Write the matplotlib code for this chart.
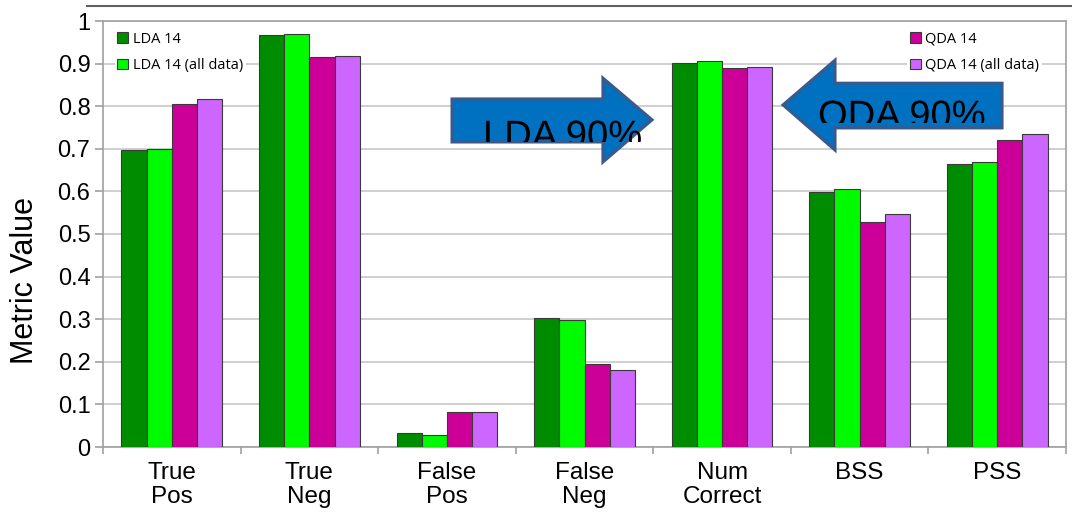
import numpy as np
import matplotlib.pyplot as plt
from matplotlib.patches import Polygon, PathPatch
from matplotlib.lines import Line2D
from matplotlib.textpath import TextPath
from matplotlib.font_manager import FontProperties
from matplotlib.transforms import Affine2D, Bbox, TransformedBbox

plt.rcParams['font.family'] = ['Liberation Sans', 'DejaVu Sans']

# Data
categories = ['True\nPos', 'True\nNeg', 'False\nPos', 'False\nNeg',
              'Num\nCorrect', 'BSS', 'PSS']
lda14 = [0.697, 0.968, 0.032, 0.302, 0.902, 0.598, 0.665]
lda14_all = [0.699, 0.969, 0.029, 0.299, 0.905, 0.605, 0.668]
qda14 = [0.804, 0.916, 0.081, 0.196, 0.890, 0.527, 0.721]
qda14_all = [0.817, 0.918, 0.081, 0.181, 0.893, 0.547, 0.735]
series_names = ['LDA 14', 'LDA 14 (all data)', 'QDA 14', 'QDA 14 (all data)']
colors = ['#008C00', '#00FA00', '#CC0099', '#CC66FF']

fig = plt.figure(figsize=(10.72, 5.12), dpi=100)
ax = fig.add_axes([103/1072, 65/512, 963/1072, 426/512])

x = np.arange(len(categories))
w = 0.183
bars = []
for i, (vals, c) in enumerate(zip([lda14, lda14_all, qda14, qda14_all], colors)):
    b = ax.bar(x + (i - 1.5) * w, vals, w, color=c, edgecolor='#3a3a3a',
               linewidth=0.8, zorder=3, label=series_names[i])
    bars.append(b)

ax.set_xlim(-0.5, len(categories) - 0.5)
ax.set_ylim(0, 1.0)
ax.set_yticks(np.arange(0, 1.01, 0.1))
ax.set_yticklabels(['0', '0.1', '0.2', '0.3', '0.4', '0.5', '0.6', '0.7',
                    '0.8', '0.9', '1'])
ax.grid(axis='y', color='#cccccc', linewidth=1.3, zorder=0)
ax.set_xticks(x)
ax.set_xticklabels(categories, fontsize=17.5, linespacing=1.12)
ax.set_xticks(np.arange(-0.5, len(categories), 1), minor=True)
ax.tick_params(axis='x', which='major', length=0, pad=11)
ax.tick_params(axis='x', which='minor', length=5, color='#a0a0a0', width=1.2)
ax.tick_params(axis='y', labelsize=17, length=6, color='#a0a0a0', width=1.2, pad=3)
for s in ax.spines.values():
    s.set_color('#a0a0a0')
    s.set_linewidth(1.2)
ax.set_ylabel('Metric Value', fontsize=22)
ax.yaxis.set_label_coords(-0.065, 0.392)

# legends
leg_kw = dict(prop={'family': 'Open Sans', 'size': 10.5}, frameon=True,
              facecolor='white', edgecolor='none', framealpha=1,
              handlelength=0.75, handleheight=0.75, handletextpad=0.3,
              labelspacing=0.78, borderpad=0.2, borderaxespad=0)
leg1 = ax.legend(bars[:2], series_names[:2], loc='upper left',
                 bbox_to_anchor=(0.012, 0.982), **leg_kw)
ax.add_artist(leg1)
leg2 = ax.legend(bars[2:], series_names[2:], loc='upper left',
                 bbox_to_anchor=(0.835, 0.982), **leg_kw)
leg1.set_zorder(5)
leg2.set_zorder(5)

# arrows
arrow_fc = '#0070C0'
arrow_ec = '#3A5A8C'
lda_arrow = Polygon([(2.037, 0.817), (3.134, 0.817), (3.134, 0.866), (3.491, 0.768),
                     (3.134, 0.669), (3.134, 0.716), (2.037, 0.716)],
                    closed=True, fc=arrow_fc, ec=arrow_ec, lw=2.2, zorder=6)
qda_arrow = Polygon([(4.443, 0.803), (4.821, 0.908), (4.821, 0.854), (6.035, 0.854),
                     (6.035, 0.749), (4.821, 0.749), (4.821, 0.697)],
                    closed=True, fc=arrow_fc, ec=arrow_ec, lw=2.2, zorder=6)
ax.add_patch(lda_arrow)
ax.add_patch(qda_arrow)


def clipped_text(s, xy, clip_bottom, size=27.5):
    # text drawn as a path so that it can be cut at the arrow body edge
    tp = TextPath((0, 0), s, size=size, prop=FontProperties(family='Liberation Sans'))
    px, py = ax.transData.transform(xy)
    tr = Affine2D().scale(fig.dpi / 72).translate(px, py)
    p = PathPatch(tp, transform=tr, fc='black', ec='none', zorder=7)
    ax.add_artist(p)
    box = TransformedBbox(Bbox([[xy[0] - 0.2, clip_bottom], [xy[0] + 2.0, 1.0]]),
                          ax.transData)
    p.set_clip_box(box)
    p.set_clip_on(True)


clipped_text('LDA 90%', (2.262, 0.704), 0.716)
clipped_text('QDA 90%', (4.697, 0.751), 0.761)

# slide decoration line on top
fig.add_artist(Line2D([87/1072, 1.0], [1 - 6/512, 1 - 6/512], color='#606060',
                      lw=1.5, transform=fig.transFigure))

fig.savefig('out.png', dpi=100)
